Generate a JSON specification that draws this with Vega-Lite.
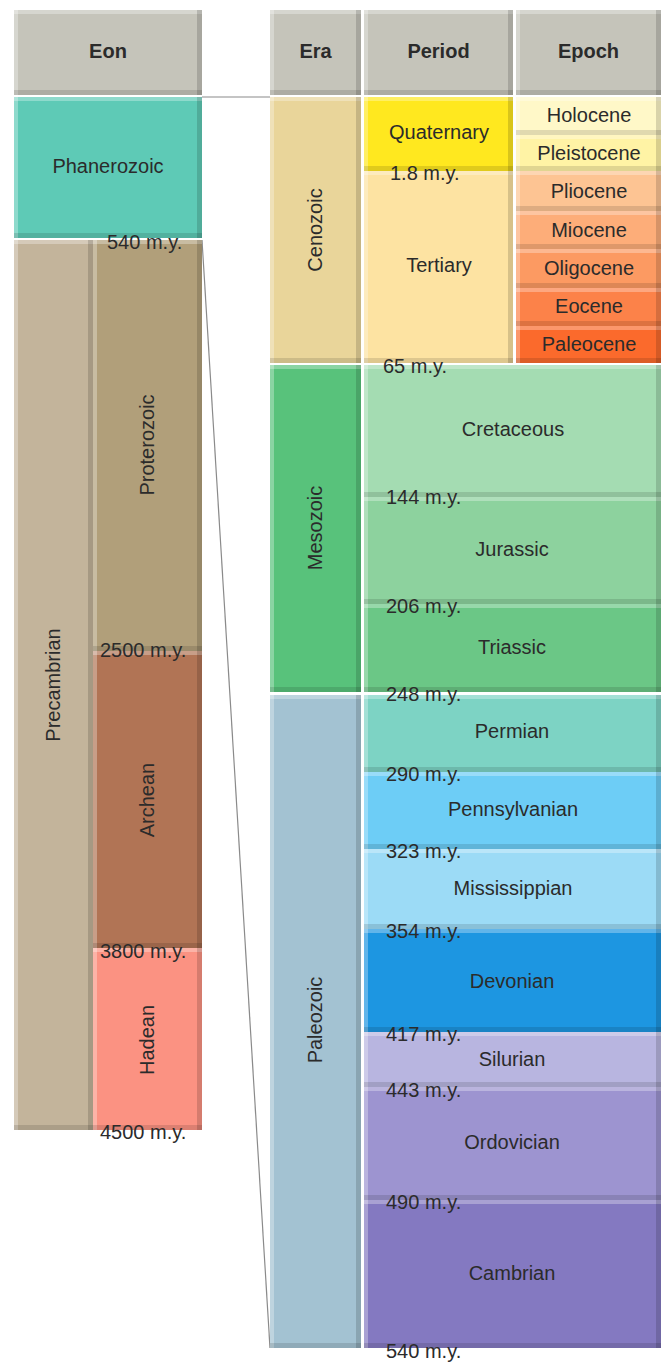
{
  "$schema": "https://vega.github.io/schema/vega-lite/v6.json",
  "width": 661,
  "height": 1362,
  "autosize": {"type": "none"},
  "padding": 0,
  "background": "white",
  "config": {"view": {"stroke": null}, "text": {"font": "Liberation Sans", "fontSize": 20, "fill": "#2b2b2b"}},
  "datasets": {
    "boxes": [
      {"level": "Header", "name": "Eon", "x0": 14, "x1": 202, "y0": 10, "y1": 95, "lx": 108, "ly": 52, "vertical": false},
      {"level": "Header", "name": "Era", "x0": 270, "x1": 361, "y0": 10, "y1": 95, "lx": 315.5, "ly": 52, "vertical": false},
      {"level": "Header", "name": "Period", "x0": 364, "x1": 513, "y0": 10, "y1": 95, "lx": 438.5, "ly": 52, "vertical": false},
      {"level": "Header", "name": "Epoch", "x0": 516, "x1": 661, "y0": 10, "y1": 95, "lx": 588.5, "ly": 52, "vertical": false},
      {"level": "Eon", "name": "Phanerozoic", "x0": 14, "x1": 202, "y0": 97, "y1": 238, "lx": 108, "ly": 167, "vertical": false},
      {"level": "Eon", "name": "Precambrian", "x0": 14, "x1": 93, "y0": 240, "y1": 1130, "lx": 54, "ly": 685, "vertical": true},
      {"level": "Eon", "name": "Proterozoic", "x0": 93, "x1": 202, "y0": 240, "y1": 651, "lx": 148, "ly": 445, "vertical": true},
      {"level": "Eon", "name": "Archean", "x0": 93, "x1": 202, "y0": 651, "y1": 948, "lx": 148, "ly": 800, "vertical": true},
      {"level": "Eon", "name": "Hadean", "x0": 93, "x1": 202, "y0": 948, "y1": 1130, "lx": 148, "ly": 1040, "vertical": true},
      {"level": "Era", "name": "Cenozoic", "x0": 270, "x1": 361, "y0": 97, "y1": 363, "lx": 316, "ly": 230, "vertical": true},
      {"level": "Era", "name": "Mesozoic", "x0": 270, "x1": 361, "y0": 365, "y1": 692, "lx": 316, "ly": 528, "vertical": true},
      {"level": "Era", "name": "Paleozoic", "x0": 270, "x1": 361, "y0": 695, "y1": 1348, "lx": 316, "ly": 1020, "vertical": true},
      {"level": "Period", "name": "Quaternary", "x0": 364, "x1": 513, "y0": 97, "y1": 171, "lx": 439, "ly": 133, "vertical": false},
      {"level": "Period", "name": "Tertiary", "x0": 364, "x1": 513, "y0": 171, "y1": 363, "lx": 439, "ly": 266, "vertical": false},
      {"level": "Period", "name": "Cretaceous", "x0": 364, "x1": 661, "y0": 365, "y1": 497, "lx": 513, "ly": 430, "vertical": false},
      {"level": "Period", "name": "Jurassic", "x0": 364, "x1": 661, "y0": 497, "y1": 604, "lx": 512, "ly": 550, "vertical": false},
      {"level": "Period", "name": "Triassic", "x0": 364, "x1": 661, "y0": 604, "y1": 692, "lx": 512, "ly": 648, "vertical": false},
      {"level": "Period", "name": "Permian", "x0": 364, "x1": 661, "y0": 695, "y1": 772, "lx": 512, "ly": 732, "vertical": false},
      {"level": "Period", "name": "Pennsylvanian", "x0": 364, "x1": 661, "y0": 772, "y1": 849, "lx": 513, "ly": 810, "vertical": false},
      {"level": "Period", "name": "Mississippian", "x0": 364, "x1": 661, "y0": 849, "y1": 929, "lx": 513, "ly": 889, "vertical": false},
      {"level": "Period", "name": "Devonian", "x0": 364, "x1": 661, "y0": 929, "y1": 1032, "lx": 512, "ly": 982, "vertical": false},
      {"level": "Period", "name": "Silurian", "x0": 364, "x1": 661, "y0": 1032, "y1": 1087, "lx": 512, "ly": 1060, "vertical": false},
      {"level": "Period", "name": "Ordovician", "x0": 364, "x1": 661, "y0": 1087, "y1": 1200, "lx": 512, "ly": 1143, "vertical": false},
      {"level": "Period", "name": "Cambrian", "x0": 364, "x1": 661, "y0": 1200, "y1": 1348, "lx": 512, "ly": 1274, "vertical": false},
      {"level": "Epoch", "name": "Holocene", "x0": 516, "x1": 661, "y0": 97, "y1": 135, "lx": 589, "ly": 116, "vertical": false},
      {"level": "Epoch", "name": "Pleistocene", "x0": 516, "x1": 661, "y0": 135, "y1": 171, "lx": 589, "ly": 154, "vertical": false},
      {"level": "Epoch", "name": "Pliocene", "x0": 516, "x1": 661, "y0": 171, "y1": 211, "lx": 589, "ly": 192, "vertical": false},
      {"level": "Epoch", "name": "Miocene", "x0": 516, "x1": 661, "y0": 211, "y1": 249, "lx": 589, "ly": 231, "vertical": false},
      {"level": "Epoch", "name": "Oligocene", "x0": 516, "x1": 661, "y0": 249, "y1": 288, "lx": 589, "ly": 269, "vertical": false},
      {"level": "Epoch", "name": "Eocene", "x0": 516, "x1": 661, "y0": 288, "y1": 326, "lx": 589, "ly": 307, "vertical": false},
      {"level": "Epoch", "name": "Paleocene", "x0": 516, "x1": 661, "y0": 326, "y1": 363, "lx": 589, "ly": 345, "vertical": false}
    ],
    "ages": [
      {"text": "540 m.y.", "x": 107, "y": 243},
      {"text": "2500 m.y.", "x": 100, "y": 651},
      {"text": "3800 m.y.", "x": 100, "y": 952},
      {"text": "4500 m.y.", "x": 100, "y": 1133},
      {"text": "1.8 m.y.", "x": 390, "y": 174},
      {"text": "65 m.y.", "x": 383, "y": 367},
      {"text": "144 m.y.", "x": 386, "y": 498},
      {"text": "206 m.y.", "x": 386, "y": 607},
      {"text": "248 m.y.", "x": 386, "y": 695},
      {"text": "290 m.y.", "x": 386, "y": 775},
      {"text": "323 m.y.", "x": 386, "y": 852},
      {"text": "354 m.y.", "x": 386, "y": 932},
      {"text": "417 m.y.", "x": 386, "y": 1035},
      {"text": "443 m.y.", "x": 386, "y": 1091},
      {"text": "490 m.y.", "x": 386, "y": 1203},
      {"text": "540 m.y.", "x": 386, "y": 1352}
    ],
    "links": [
      {"x0": 202, "y0": 97, "x1": 270, "y1": 97},
      {"x0": 202, "y0": 240, "x1": 270, "y1": 1348}
    ]
  },
  "layer": [
    {
      "data": {"name": "links"},
      "mark": {"type": "rule", "color": "#8a8a8a", "strokeWidth": 1.2},
      "encoding": {
        "x": {"field": "x0", "type": "quantitative", "axis": null, "scale": {"domain": [0, 661], "nice": false, "zero": false}},
        "x2": {"field": "x1"},
        "y": {"field": "y0", "type": "quantitative", "axis": null, "scale": {"domain": [0, 1362], "nice": false, "zero": false, "reverse": true}},
        "y2": {"field": "y1"}
      }
    },
    {
      "data": {"name": "boxes"},
      "mark": {"type": "rect"},
      "encoding": {
        "x": {"field": "x0", "type": "quantitative"},
        "x2": {"field": "x1"},
        "y": {"field": "y0", "type": "quantitative"},
        "y2": {"field": "y1"},
        "color": {
          "field": "name", "type": "nominal", "legend": null,
          "scale": {
            "domain": ["Eon", "Era", "Period", "Epoch", "Phanerozoic", "Precambrian", "Proterozoic", "Archean", "Hadean", "Cenozoic", "Mesozoic", "Paleozoic", "Quaternary", "Tertiary", "Cretaceous", "Jurassic", "Triassic", "Permian", "Pennsylvanian", "Mississippian", "Devonian", "Silurian", "Ordovician", "Cambrian", "Holocene", "Pleistocene", "Pliocene", "Miocene", "Oligocene", "Eocene", "Paleocene"],
            "range": ["#c5c4ba", "#c5c4ba", "#c5c4ba", "#c5c4ba", "#5ecab6", "#c3b49b", "#b19f7a", "#b17455", "#fb9282", "#e9d59a", "#58c27b", "#a3c2d2", "#ffe81f", "#fde3a2", "#a4dcb2", "#8dd29e", "#6bc786", "#7dd3c4", "#6dcdf6", "#9cdbf6", "#1d96e1", "#b8b5e0", "#9d94d0", "#8479c1", "#fff8c8", "#fff3a5", "#fdc493", "#fdad79", "#fc9a62", "#fc8249", "#fb6a2c"]
          }
        }
      }
    },
    {
      "data": {"name": "boxes"},
      "mark": {"type": "rule", "color": "white", "opacity": 0.3, "strokeWidth": 4, "yOffset": 2, "strokeCap": "butt"},
      "encoding": {
        "x": {"field": "x0", "type": "quantitative"},
        "x2": {"field": "x1"},
        "y": {"field": "y0", "type": "quantitative"}
      }
    },
    {
      "data": {"name": "boxes"},
      "mark": {"type": "rule", "color": "white", "opacity": 0.3, "strokeWidth": 4, "xOffset": 2, "strokeCap": "butt"},
      "encoding": {
        "x": {"field": "x0", "type": "quantitative"},
        "y": {"field": "y0", "type": "quantitative"},
        "y2": {"field": "y1"}
      }
    },
    {
      "data": {"name": "boxes"},
      "mark": {"type": "rule", "color": "black", "opacity": 0.12, "strokeWidth": 5, "yOffset": -2.5, "strokeCap": "butt"},
      "encoding": {
        "x": {"field": "x0", "type": "quantitative"},
        "x2": {"field": "x1"},
        "y": {"field": "y1", "type": "quantitative"}
      }
    },
    {
      "data": {"name": "boxes"},
      "mark": {"type": "rule", "color": "black", "opacity": 0.15, "strokeWidth": 5, "xOffset": -2.5, "strokeCap": "butt"},
      "encoding": {
        "x": {"field": "x1", "type": "quantitative"},
        "y": {"field": "y0", "type": "quantitative"},
        "y2": {"field": "y1"}
      }
    },
    {
      "data": {"name": "boxes"},
      "transform": [{"filter": "datum.level !== 'Header' && !datum.vertical"}],
      "mark": {"type": "text", "align": "center", "baseline": "middle"},
      "encoding": {
        "x": {"field": "lx", "type": "quantitative"},
        "y": {"field": "ly", "type": "quantitative"},
        "text": {"field": "name"}
      }
    },
    {
      "data": {"name": "boxes"},
      "transform": [{"filter": "datum.vertical"}],
      "mark": {"type": "text", "align": "center", "baseline": "middle", "angle": 270},
      "encoding": {
        "x": {"field": "lx", "type": "quantitative"},
        "y": {"field": "ly", "type": "quantitative"},
        "text": {"field": "name"}
      }
    },
    {
      "data": {"name": "boxes"},
      "transform": [{"filter": "datum.level === 'Header'"}],
      "mark": {"type": "text", "align": "center", "baseline": "middle", "fontWeight": "bold"},
      "encoding": {
        "x": {"field": "lx", "type": "quantitative"},
        "y": {"field": "ly", "type": "quantitative"},
        "text": {"field": "name"}
      }
    },
    {
      "data": {"name": "ages"},
      "mark": {"type": "text", "align": "left", "baseline": "middle"},
      "encoding": {
        "x": {"field": "x", "type": "quantitative"},
        "y": {"field": "y", "type": "quantitative"},
        "text": {"field": "text"}
      }
    }
  ]
}
